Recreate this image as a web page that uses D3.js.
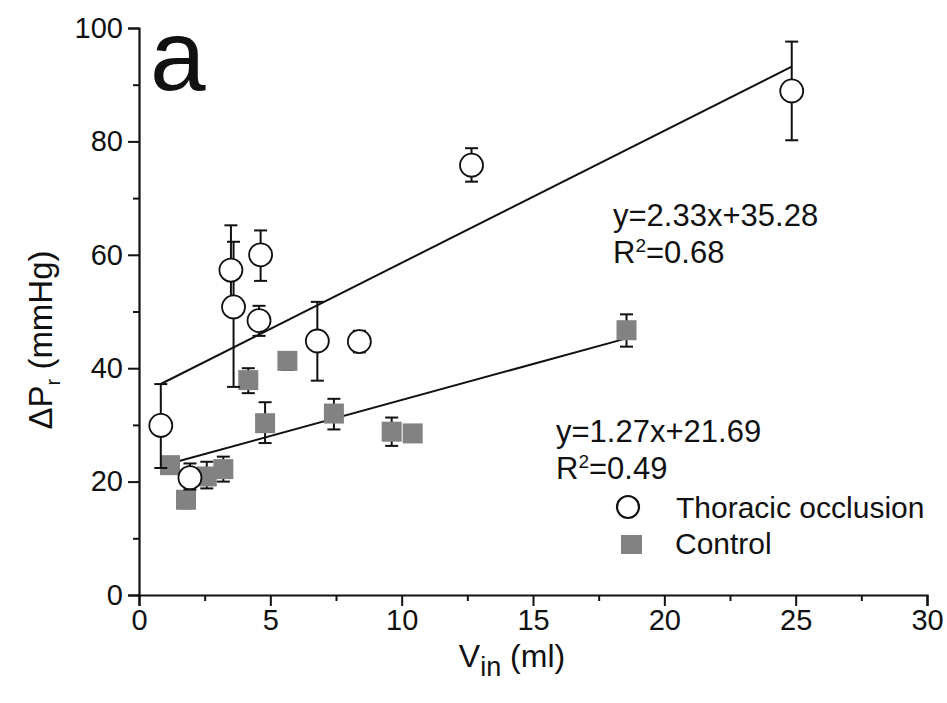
<!DOCTYPE html>
<html>
<head>
<meta charset="utf-8">
<script src="https://cdn.jsdelivr.net/npm/d3@7"></script>
<style>
html,body{margin:0;padding:0;background:#fff;}
svg{display:block;}
text{font-family:"Liberation Sans",Arial,sans-serif;fill:#111;}
</style>
</head>
<body>
<svg id="chart" width="947" height="703"></svg>
<script>
// ---- data ----
const thoracicX  = [0.83, 1.94, 3.5, 3.6, 4.63, 4.57, 6.79, 8.39, 12.66, 24.85];
const thoracicY  = [29.9, 20.7, 57.3, 50.8, 60.0, 48.4, 44.8, 44.7, 75.8, 88.9];
const thoracicLo = [22.4, 18.6, 49.5, 36.7, 55.4, 45.7, 37.8, 42.8, 72.9, 80.2];
const thoracicHi = [37.2, 23.2, 65.2, 62.3, 64.3, 51.0, 51.7, 46.6, 78.8, 97.6];

const controlX  = [1.18, 1.79, 2.58, 3.21, 4.16, 5.65, 4.8, 7.42, 9.62, 10.42, 18.56];
const controlY  = [22.9, 16.8, 20.9, 22.2, 37.9, 41.3, 30.3, 32.0, 28.8, 28.5, 46.7];
const controlLo = [21.6, 15.3, 18.8, 20.0, 35.6, 39.7, 26.8, 29.2, 26.3, 27.1, 43.8];
const controlHi = [24.1, 18.1, 23.5, 24.4, 40.0, 42.6, 34.0, 34.6, 31.3, 29.9, 49.5];

const fitThoracic = {slope: 2.33, intercept: 35.28, label: "y=2.33x+35.28", r2: "0.68"};
const fitControl  = {slope: 1.27, intercept: 21.69, label: "y=1.27x+21.69", r2: "0.49"};

const xTicks = [0, 5, 10, 15, 20, 25, 30];
const xMinor = [2.5, 7.5, 12.5, 17.5, 22.5, 27.5];
const yTicks = [0, 20, 40, 60, 80, 100];
const yMinor = [10, 30, 50, 70, 90];
const legendLabels = ["Thoracic occlusion", "Control"];

// ---- layout ----
const svg = d3.select("#chart");
const m = {left: 139, right: 20, top: 28, bottom: 108};
const W = 947, H = 703;
const x = d3.scaleLinear().domain([0, 30]).range([m.left, W - m.right]);
const y = d3.scaleLinear().domain([0, 100]).range([H - m.bottom, m.top]);
const ink = "#111";
const gray = "#828282";

// axes
const xAxis = svg.append("g").attr("transform", `translate(0,${y(0)})`)
  .call(d3.axisBottom(x).tickValues(xTicks).tickSize(11).tickPadding(3).tickFormat(d3.format("d")));
svg.append("g").attr("transform", `translate(0,${y(0)})`)
  .call(d3.axisBottom(x).tickValues(xMinor).tickSize(6).tickFormat(""))
  .select(".domain").remove();
const yAxis = svg.append("g").attr("transform", `translate(${x(0)},0)`)
  .call(d3.axisLeft(y).tickValues(yTicks).tickSize(11).tickPadding(5).tickFormat(d3.format("d")));
svg.append("g").attr("transform", `translate(${x(0)},0)`)
  .call(d3.axisLeft(y).tickValues(yMinor).tickSize(6).tickFormat(""))
  .select(".domain").remove();

svg.selectAll(".domain").attr("stroke", ink).attr("stroke-width", 2.2);
svg.selectAll(".tick line").attr("stroke", ink).attr("stroke-width", 2);
svg.selectAll(".tick text").attr("fill", ink)
  .style("font-family", '"Liberation Sans",Arial,sans-serif').style("font-size", "29px");
xAxis.selectAll(".tick text").attr("dy", "0.74em");

// axis titles
const yt = svg.append("text")
  .attr("transform", `translate(52,340) rotate(-90)`)
  .attr("text-anchor", "middle").style("font-size", "33px");
yt.append("tspan").text("ΔP");
yt.append("tspan").attr("dy", 8).style("font-size", "20px").text("r");
yt.append("tspan").attr("dy", -8).text(" (mmHg)");

const xt = svg.append("text")
  .attr("x", 512).attr("y", 667)
  .attr("text-anchor", "middle").style("font-size", "32px");
xt.append("tspan").text("V");
xt.append("tspan").attr("dy", 9).style("font-size", "27px").text("in");
xt.append("tspan").attr("dy", -9).text(" (ml)");

// panel letter
svg.append("text").attr("x", 150).attr("y", 90).style("font-size", "100px").text("a");

// regression lines
function fitLine(fit, xs) {
  const x0 = d3.min(xs), x1 = d3.max(xs);
  svg.append("line")
    .attr("x1", x(x0)).attr("y1", y(fit.slope * x0 + fit.intercept))
    .attr("x2", x(x1)).attr("y2", y(fit.slope * x1 + fit.intercept))
    .attr("stroke", ink).attr("stroke-width", 2);
}
fitLine(fitThoracic, thoracicX);
fitLine(fitControl, controlX);

// error bars
function errBars(xs, los, his) {
  const g = svg.append("g").attr("stroke", ink).attr("stroke-width", 2);
  xs.forEach((xv, i) => {
    g.append("line").attr("x1", x(xv)).attr("x2", x(xv)).attr("y1", y(los[i])).attr("y2", y(his[i]));
    [los[i], his[i]].forEach(v => {
      g.append("line").attr("x1", x(xv) - 6.5).attr("x2", x(xv) + 6.5).attr("y1", y(v)).attr("y2", y(v));
    });
  });
}
errBars(controlX, controlLo, controlHi);

// control squares
svg.append("g").selectAll("rect").data(controlX).join("rect")
  .attr("x", (d) => x(d) - 10).attr("y", (d, i) => y(controlY[i]) - 10)
  .attr("width", 20).attr("height", 20).attr("fill", gray);

errBars(thoracicX, thoracicLo, thoracicHi);
// thoracic circles
svg.append("g").selectAll("circle").data(thoracicX).join("circle")
  .attr("cx", d => x(d)).attr("cy", (d, i) => y(thoracicY[i])).attr("r", 11.5)
  .attr("fill", "#fff").attr("stroke", ink).attr("stroke-width", 1.8);

// equations
function eq(fit, xp, yp) {
  svg.append("text").attr("x", xp).attr("y", yp).style("font-size", "31px").text(fit.label);
  const t = svg.append("text").attr("x", xp).attr("y", yp + 37).style("font-size", "31px");
  t.append("tspan").text("R");
  t.append("tspan").attr("dy", -11).style("font-size", "19px").text("2");
  t.append("tspan").attr("dy", 11).text("=" + fit.r2);
}
eq(fitThoracic, 613, 226);
eq(fitControl, 556, 442);

// legend
svg.append("circle").attr("cx", 628).attr("cy", 507).attr("r", 11)
  .attr("fill", "#fff").attr("stroke", ink).attr("stroke-width", 2.2);
svg.append("rect").attr("x", 621).attr("y", 535).attr("width", 21).attr("height", 19).attr("fill", gray);
svg.append("text").attr("x", 676).attr("y", 518).style("font-size", "30px").text(legendLabels[0]);
svg.append("text").attr("x", 675).attr("y", 554).style("font-size", "30px").text(legendLabels[1]);
</script>
</body>
</html>
